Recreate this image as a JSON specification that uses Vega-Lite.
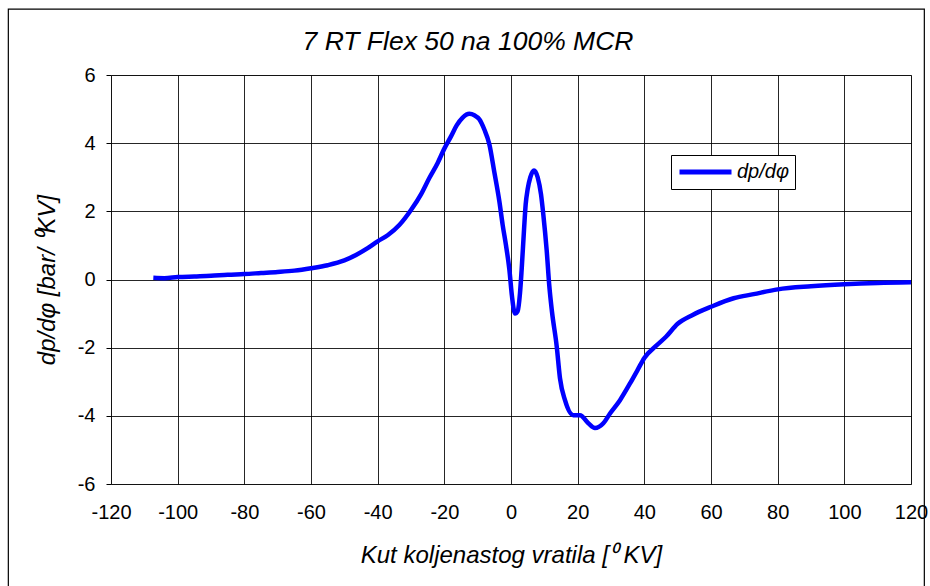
{
  "$schema": "https://vega.github.io/schema/vega-lite/v6.json",
  "autosize": {"type": "none"},
  "width": 800,
  "height": 409,
  "padding": {"left": 111, "top": 75, "right": 19, "bottom": 102},
  "background": "white",
  "title": {
    "text": "7 RT Flex 50 na 100% MCR",
    "font": "Liberation Sans",
    "fontStyle": "italic",
    "fontWeight": "normal",
    "fontSize": 26.5,
    "color": "black",
    "anchor": "middle",
    "frame": "group",
    "dx": -43,
    "dy": 59,
    "offset": 12
  },
  "config": {
    "view": {"stroke": "#808080", "strokeWidth": 1},
    "axis": {
      "labelFont": "Liberation Sans",
      "labelFontSize": 20,
      "labelColor": "black",
      "labelOverlap": false,
      "labelFlush": false,
      "labelExpr": "datum.value + ''",
      "titleFont": "Liberation Sans",
      "titleFontSize": 24,
      "titleFontStyle": "italic",
      "titleFontWeight": "normal",
      "titleColor": "black",
      "gridColor": "#000000",
      "gridOpacity": 0.85,
      "gridWidth": 1,
      "domain": false
    }
  },
  "datasets": {
    "curve": [
      {"angle": -107.3, "dp": 0.05, "series": "dp/dφ"},
      {"angle": -104, "dp": 0.04, "series": "dp/dφ"},
      {"angle": -100, "dp": 0.07, "series": "dp/dφ"},
      {"angle": -95, "dp": 0.09, "series": "dp/dφ"},
      {"angle": -90, "dp": 0.11, "series": "dp/dφ"},
      {"angle": -85, "dp": 0.14, "series": "dp/dφ"},
      {"angle": -80, "dp": 0.16, "series": "dp/dφ"},
      {"angle": -75, "dp": 0.19, "series": "dp/dφ"},
      {"angle": -70, "dp": 0.22, "series": "dp/dφ"},
      {"angle": -65, "dp": 0.26, "series": "dp/dφ"},
      {"angle": -60, "dp": 0.33, "series": "dp/dφ"},
      {"angle": -55, "dp": 0.42, "series": "dp/dφ"},
      {"angle": -50, "dp": 0.56, "series": "dp/dφ"},
      {"angle": -46.5, "dp": 0.72, "series": "dp/dφ"},
      {"angle": -43, "dp": 0.92, "series": "dp/dφ"},
      {"angle": -40, "dp": 1.12, "series": "dp/dφ"},
      {"angle": -37, "dp": 1.3, "series": "dp/dφ"},
      {"angle": -33.5, "dp": 1.6, "series": "dp/dφ"},
      {"angle": -30, "dp": 2.04, "series": "dp/dφ"},
      {"angle": -27, "dp": 2.5, "series": "dp/dφ"},
      {"angle": -24.5, "dp": 2.98, "series": "dp/dφ"},
      {"angle": -22, "dp": 3.42, "series": "dp/dφ"},
      {"angle": -20, "dp": 3.84, "series": "dp/dφ"},
      {"angle": -18, "dp": 4.2, "series": "dp/dφ"},
      {"angle": -16.3, "dp": 4.52, "series": "dp/dφ"},
      {"angle": -14.5, "dp": 4.75, "series": "dp/dφ"},
      {"angle": -12.5, "dp": 4.86, "series": "dp/dφ"},
      {"angle": -11, "dp": 4.82, "series": "dp/dφ"},
      {"angle": -9.5, "dp": 4.7, "series": "dp/dφ"},
      {"angle": -8, "dp": 4.4, "series": "dp/dφ"},
      {"angle": -6.5, "dp": 3.97, "series": "dp/dφ"},
      {"angle": -5, "dp": 3.15, "series": "dp/dφ"},
      {"angle": -3.5, "dp": 2.3, "series": "dp/dφ"},
      {"angle": -2.5, "dp": 1.6, "series": "dp/dφ"},
      {"angle": -1.5, "dp": 1.0, "series": "dp/dφ"},
      {"angle": -0.5, "dp": 0.3, "series": "dp/dφ"},
      {"angle": 0.3, "dp": -0.5, "series": "dp/dφ"},
      {"angle": 1.2, "dp": -1.0, "series": "dp/dφ"},
      {"angle": 2.0, "dp": -0.93, "series": "dp/dφ"},
      {"angle": 2.7, "dp": -0.4, "series": "dp/dφ"},
      {"angle": 3.2, "dp": 0.3, "series": "dp/dφ"},
      {"angle": 3.9, "dp": 1.45, "series": "dp/dφ"},
      {"angle": 4.4, "dp": 2.2, "series": "dp/dφ"},
      {"angle": 5.0, "dp": 2.65, "series": "dp/dφ"},
      {"angle": 5.8, "dp": 3.0, "series": "dp/dφ"},
      {"angle": 6.9, "dp": 3.2, "series": "dp/dφ"},
      {"angle": 8.0, "dp": 3.0, "series": "dp/dφ"},
      {"angle": 9.0, "dp": 2.5, "series": "dp/dφ"},
      {"angle": 9.7, "dp": 1.9, "series": "dp/dφ"},
      {"angle": 10.7, "dp": 0.86, "series": "dp/dφ"},
      {"angle": 11.5, "dp": -0.2, "series": "dp/dφ"},
      {"angle": 12.3, "dp": -0.95, "series": "dp/dφ"},
      {"angle": 13.7, "dp": -1.95, "series": "dp/dφ"},
      {"angle": 14.7, "dp": -2.9, "series": "dp/dφ"},
      {"angle": 16.2, "dp": -3.54, "series": "dp/dφ"},
      {"angle": 18.7, "dp": -3.98, "series": "dp/dφ"},
      {"angle": 20.7, "dp": -3.98, "series": "dp/dφ"},
      {"angle": 23.2, "dp": -4.22, "series": "dp/dφ"},
      {"angle": 25.2, "dp": -4.36, "series": "dp/dφ"},
      {"angle": 27.7, "dp": -4.22, "series": "dp/dφ"},
      {"angle": 29.7, "dp": -3.93, "series": "dp/dφ"},
      {"angle": 32.7, "dp": -3.54, "series": "dp/dφ"},
      {"angle": 35.7, "dp": -3.05, "series": "dp/dφ"},
      {"angle": 38, "dp": -2.65, "series": "dp/dφ"},
      {"angle": 40, "dp": -2.3, "series": "dp/dφ"},
      {"angle": 43.5, "dp": -1.95, "series": "dp/dφ"},
      {"angle": 46.5, "dp": -1.68, "series": "dp/dφ"},
      {"angle": 50, "dp": -1.3, "series": "dp/dφ"},
      {"angle": 54.5, "dp": -1.04, "series": "dp/dφ"},
      {"angle": 60, "dp": -0.8, "series": "dp/dφ"},
      {"angle": 66.8, "dp": -0.55, "series": "dp/dφ"},
      {"angle": 72.8, "dp": -0.43, "series": "dp/dφ"},
      {"angle": 80, "dp": -0.29, "series": "dp/dφ"},
      {"angle": 90, "dp": -0.2, "series": "dp/dφ"},
      {"angle": 100, "dp": -0.14, "series": "dp/dφ"},
      {"angle": 110, "dp": -0.1, "series": "dp/dφ"},
      {"angle": 120, "dp": -0.08, "series": "dp/dφ"}
    ]
  },
  "layer": [
    {
      "data": {"name": "curve"},
      "mark": {"type": "line", "strokeWidth": 4.5, "interpolate": "monotone", "clip": true},
      "encoding": {
        "x": {
          "field": "angle",
          "type": "quantitative",
          "scale": {"domain": [-120, 120], "nice": false, "zero": false},
          "axis": {
            "values": [-120, -100, -80, -60, -40, -20, 0, 20, 40, 60, 80, 100, 120],
            "ticks": false,
            "labelPadding": 18,
            "title": "Kut koljenastog vratila [⁰ KV]",
            "titlePadding": 21
          }
        },
        "y": {
          "field": "dp",
          "type": "quantitative",
          "scale": {"domain": [-6, 6], "nice": false, "zero": false},
          "axis": {
            "values": [-6, -4, -2, 0, 2, 4, 6],
            "tickSize": 5,
            "tickColor": "#000000",
            "labelPadding": 11,
            "title": "dp/dφ [bar/ ⁰KV]",
            "titlePadding": 18
          }
        },
        "color": {
          "field": "series",
          "type": "nominal",
          "scale": {"range": ["#0000FF"]},
          "legend": {
            "title": null,
            "orient": "none",
            "legendX": 560,
            "legendY": 80,
            "direction": "vertical",
            "symbolType": "stroke",
            "symbolSize": 2704,
            "symbolStrokeWidth": 5,
            "clipHeight": 22,
            "labelFont": "Liberation Sans",
            "labelFontStyle": "italic",
            "labelFontSize": 20,
            "labelColor": "black",
            "labelOffset": 3,
            "padding": 6,
            "strokeColor": "black",
            "fillColor": "white",
            "cornerRadius": 0
          }
        }
      }
    },
    {
      "data": {"values": [{}]},
      "mark": {"type": "rect", "filled": false, "stroke": "black", "strokeWidth": 1.2, "clip": false},
      "encoding": {
        "x": {"datum": -150.8, "type": "quantitative"},
        "x2": {"datum": 124},
        "y": {"datum": 7.93, "type": "quantitative"},
        "y2": {"datum": -9.6}
      }
    }
  ]
}
